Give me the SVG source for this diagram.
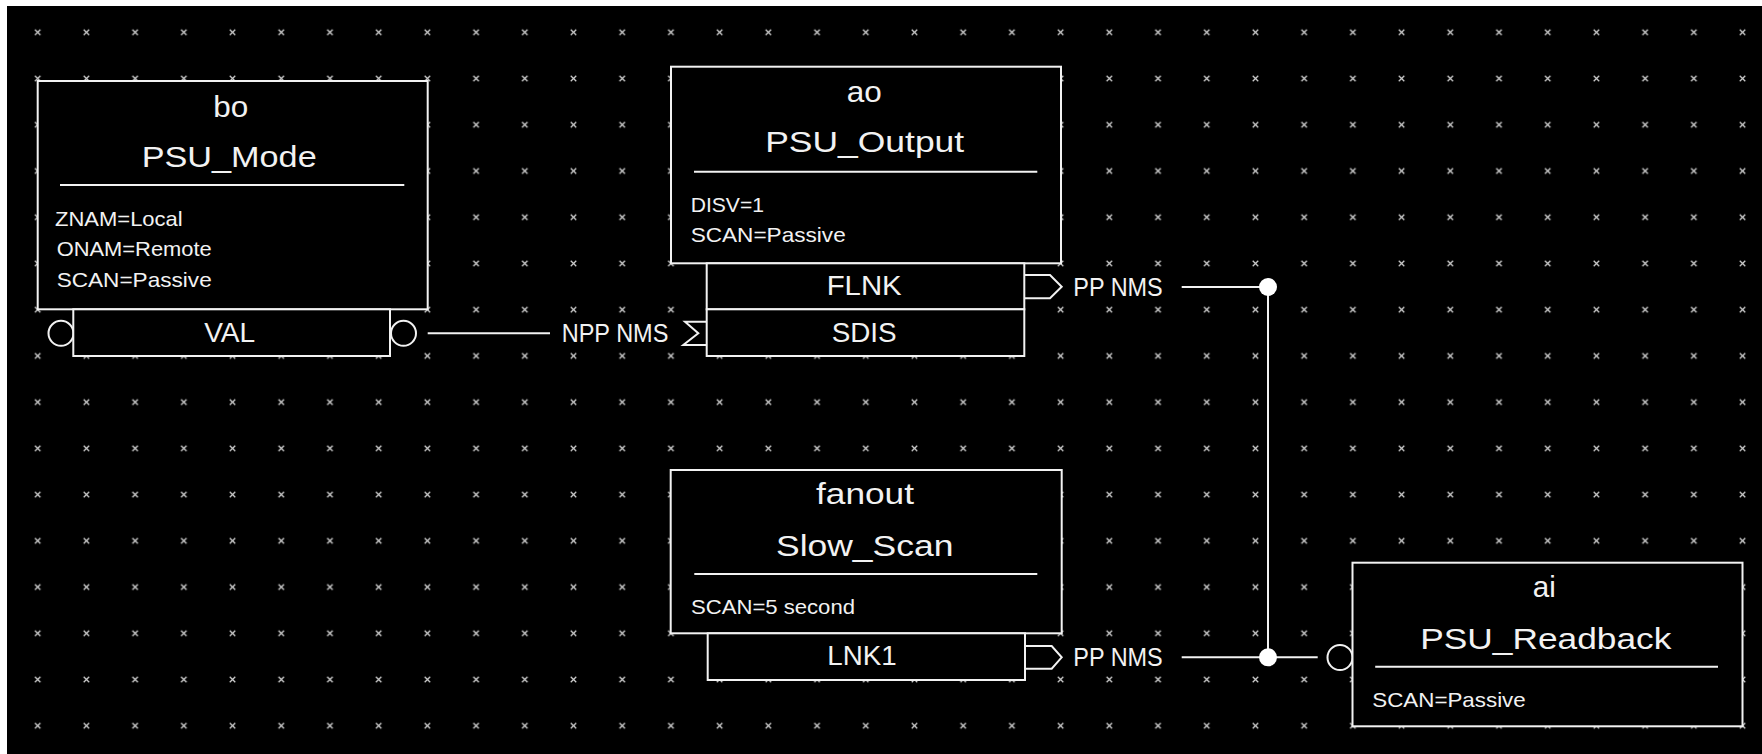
<svg xmlns="http://www.w3.org/2000/svg" width="1762" height="754" viewBox="0 0 1762 754">
<defs>
<pattern id="grid" patternUnits="userSpaceOnUse" x="13.35" y="9.19" width="48.71" height="46.23">
<path d="M21.6,20.4 L27.1,25.9 M27.1,20.4 L21.6,25.9" stroke="#cfcfcf" stroke-width="1.3" fill="none"/>
</pattern>
<style>
.box{fill:#000;stroke:#f2f2f2;stroke-width:2}
.ln{stroke:#f2f2f2;stroke-width:2;fill:none}
.t{font-family:"Liberation Sans",Arial,sans-serif;fill:#f2f2f2}
.title{font-size:30px;text-anchor:middle}
.port{font-size:28px;text-anchor:middle}
.fld{font-size:21px}
.lbl{font-size:26px}
.dot{fill:#fff}
</style>
</defs>
<rect x="0" y="0" width="1762" height="754" fill="#fff"/>
<rect x="7" y="6" width="1755" height="748" fill="#000"/>
<rect x="7" y="6" width="1755" height="748" fill="url(#grid)"/>

<g id="connectors">
<line class="ln" x1="427.7" y1="333.3" x2="550" y2="333.3"/>
<line class="ln" x1="1181.7" y1="287" x2="1268" y2="287"/>
<line class="ln" x1="1268" y1="287" x2="1268" y2="657.3"/>
<line class="ln" x1="1181.7" y1="657.3" x2="1317.7" y2="657.3"/>
<circle class="dot" cx="1268" cy="287" r="9"/>
<circle class="dot" cx="1268" cy="657.3" r="9"/>
<text class="t lbl" x="561.7" y="341.7" textLength="106.7" lengthAdjust="spacingAndGlyphs">NPP NMS</text>
<text class="t lbl" x="1073.3" y="296" textLength="89.4" lengthAdjust="spacingAndGlyphs">PP NMS</text>
<text class="t lbl" x="1073.3" y="666" textLength="89.4" lengthAdjust="spacingAndGlyphs">PP NMS</text>
</g>

<g id="node-bo">
<rect class="box" x="37.7" y="81" width="390" height="228.3"/>
<text class="t title" x="230.7" y="116.7" textLength="35" lengthAdjust="spacingAndGlyphs">bo</text>
<text class="t title" x="229.2" y="166.7" textLength="175" lengthAdjust="spacingAndGlyphs">PSU_Mode</text>
<line class="ln" x1="60" y1="185" x2="404.3" y2="185"/>
<text class="t fld" x="55" y="226" textLength="127.7" lengthAdjust="spacingAndGlyphs">ZNAM=Local</text>
<text class="t fld" x="56.7" y="256" textLength="155" lengthAdjust="spacingAndGlyphs">ONAM=Remote</text>
<text class="t fld" x="56.7" y="287.3" textLength="155" lengthAdjust="spacingAndGlyphs">SCAN=Passive</text>
<circle class="ln" cx="61" cy="333.3" r="12.5"/>
<circle class="ln" cx="403.5" cy="333.3" r="12.5"/>
<rect class="box" x="73.3" y="309.3" width="316.7" height="46.7"/>
<text class="t port" x="229.7" y="341.7" textLength="51" lengthAdjust="spacingAndGlyphs">VAL</text>
</g>

<g id="node-ao">
<rect class="box" x="671" y="66.7" width="390" height="196.6"/>
<text class="t title" x="864.2" y="101.7" textLength="35" lengthAdjust="spacingAndGlyphs">ao</text>
<text class="t title" x="864.7" y="151.7" textLength="199" lengthAdjust="spacingAndGlyphs">PSU_Output</text>
<line class="ln" x1="694" y1="171.7" x2="1037.3" y2="171.7"/>
<text class="t fld" x="690.7" y="211.7" textLength="73.3" lengthAdjust="spacingAndGlyphs">DISV=1</text>
<text class="t fld" x="690.7" y="241.7" textLength="155" lengthAdjust="spacingAndGlyphs">SCAN=Passive</text>
<rect class="box" x="706.7" y="263.3" width="317.6" height="46"/>
<rect class="box" x="706.7" y="309.3" width="317.6" height="46.7"/>
<text class="t port" x="864.2" y="295" textLength="75" lengthAdjust="spacingAndGlyphs">FLNK</text>
<text class="t port" x="864.2" y="341.7" textLength="65" lengthAdjust="spacingAndGlyphs">SDIS</text>
<polyline class="ln" points="1024.3,275 1050,275 1061.7,286.7 1050,298.3 1024.3,298.3"/>
<polyline class="ln" points="706.7,321.7 685,321.7 698.3,333.3 683.3,345 706.7,345"/>
</g>

<g id="node-fanout">
<rect class="box" x="670.7" y="470" width="391" height="163.3"/>
<text class="t title" x="865" y="504" textLength="98" lengthAdjust="spacingAndGlyphs">fanout</text>
<text class="t title" x="864.7" y="556" textLength="177.3" lengthAdjust="spacingAndGlyphs">Slow_Scan</text>
<line class="ln" x1="694.3" y1="574" x2="1037.3" y2="574"/>
<text class="t fld" x="691" y="614" textLength="164" lengthAdjust="spacingAndGlyphs">SCAN=5 second</text>
<rect class="box" x="707.7" y="633.3" width="317.3" height="46.7"/>
<text class="t port" x="862" y="665" textLength="69.4" lengthAdjust="spacingAndGlyphs">LNK1</text>
<polyline class="ln" points="1025,646 1051.7,646 1061.7,657.3 1051.7,668.7 1025,668.7"/>
</g>

<g id="node-ai">
<circle class="ln" cx="1340" cy="657.5" r="12.5"/>
<rect class="box" x="1352.5" y="562.7" width="390" height="163.6"/>
<text class="t title" x="1544.3" y="596.7" textLength="23" lengthAdjust="spacingAndGlyphs">ai</text>
<text class="t title" x="1545.8" y="649" textLength="251" lengthAdjust="spacingAndGlyphs">PSU_Readback</text>
<line class="ln" x1="1375.2" y1="666.7" x2="1718" y2="666.7"/>
<text class="t fld" x="1372.3" y="706.7" textLength="153.4" lengthAdjust="spacingAndGlyphs">SCAN=Passive</text>
</g>
</svg>
